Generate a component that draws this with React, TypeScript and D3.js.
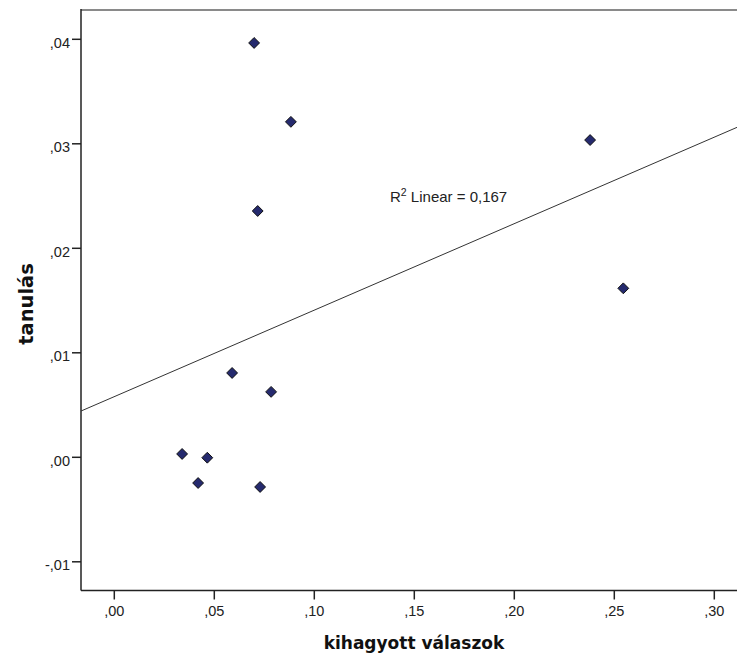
import React from "react";
import * as d3 from "d3";

const xValues = [0.0699, 0.0883, 0.0717, 0.2379, 0.2545, 0.0589, 0.0784, 0.0339, 0.0465, 0.0419, 0.0729];
const yValues = [0.03965, 0.0321, 0.02357, 0.03036, 0.01617, 0.00807, 0.00626, 0.00032, -0.00004, -0.00246, -0.00284];
const xTicks = [0, 0.05, 0.1, 0.15, 0.2, 0.25, 0.3];
const xTickLabels = [",00", ",05", ",10", ",15", ",20", ",25", ",30"];
const yTicks = [-0.01, 0, 0.01, 0.02, 0.03, 0.04];
const yTickLabels = ["-,01", ",00", ",01", ",02", ",03", ",04"];
const xTitle = "kihagyott válaszok";
const yTitle = "tanulás";
const fitLabel = "Linear = 0,167";

const W = 737, H = 659;
const L = 81, R = 737, T = 10, B = 590.5;
const FONT = "'Liberation Sans', Arial, sans-serif";
const TITLE_FONT = "'DejaVu Sans', sans-serif";

export default function App() {
  const x = d3.scaleLinear().domain([0, 0.3]).range([114.3, 714.3]);
  const y = d3.scaleLinear().domain([0, 0.04]).range([457.3, 39.3]);
  const xMin = x.invert(L), xMax = x.invert(R);

  const mx = d3.mean(xValues)!, my = d3.mean(yValues)!;
  let sxy = 0, sxx = 0;
  xValues.forEach((v, i) => { sxy += (v - mx) * (yValues[i] - my); sxx += (v - mx) ** 2; });
  const slope = sxy / sxx, icpt = my - slope * mx;
  const line = d3.line<number>().x(v => x(v)).y(v => y(icpt + slope * v));

  const diamond = d3.symbol().type(d3.symbolDiamond2).size(75)()!;

  return (
    <svg width={W} height={H} style={{ position: "absolute", left: 0, top: 0, background: "#fff" }} fontFamily={FONT}>
      <rect x={0} y={0} width={W} height={H} fill="#fff" />
      <defs>
        <clipPath id="plot"><rect x={L} y={T} width={R - L} height={B - T} /></clipPath>
      </defs>
      {/* frame */}
      <line x1={L} x2={R} y1={T} y2={T} stroke="#8a8a8a" strokeWidth={2} />
      <line x1={L} x2={L} y1={T - 1} y2={B} stroke="#222" strokeWidth={1.5} />
      <line x1={L} x2={R} y1={B} y2={B} stroke="#222" strokeWidth={1.5} />
      {/* x ticks */}
      {xTicks.map((t, i) => (
        <g key={"x" + i}>
          <line x1={x(t)} x2={x(t)} y1={B} y2={B + 9} stroke="#222" strokeWidth={1.5} />
          <text x={x(t)} y={616} textAnchor="middle" fontSize={14.5} fill="#222">{xTickLabels[i]}</text>
        </g>
      ))}
      {/* y ticks */}
      {yTicks.map((t, i) => (
        <g key={"y" + i}>
          <line x1={L - 9} x2={L} y1={y(t)} y2={y(t)} stroke="#222" strokeWidth={1.5} />
          <text x={70} y={y(t) + 8.5} textAnchor="end" fontSize={14.5} fill="#222">{yTickLabels[i]}</text>
        </g>
      ))}
      {/* fit line */}
      <path d={line([xMin, xMax])!} stroke="#333" strokeWidth={1} fill="none" clipPath="url(#plot)" />
      <text x={390} y={201.5} fontSize={15} fill="#222">
        <tspan>R</tspan>
        <tspan dy={-6} fontSize={10.5}>2</tspan>
        <tspan dy={6}> {fitLabel}</tspan>
      </text>
      {/* points */}
      {xValues.map((v, i) => (
        <path key={"p" + i} d={diamond} transform={`translate(${x(v)},${y(yValues[i])})`} fill="#252a6e" stroke="#111" strokeWidth={1} />
      ))}
      {/* titles */}
      <text x={414} y={649.3} textAnchor="middle" fontSize={17} fontWeight="bold" fill="#111" fontFamily={TITLE_FONT}>{xTitle}</text>
      <text transform={`translate(33,${304}) rotate(-90)`} textAnchor="middle" fontSize={19.5} fontWeight="bold" fill="#111" fontFamily={TITLE_FONT}>{yTitle}</text>
    </svg>
  );
}
